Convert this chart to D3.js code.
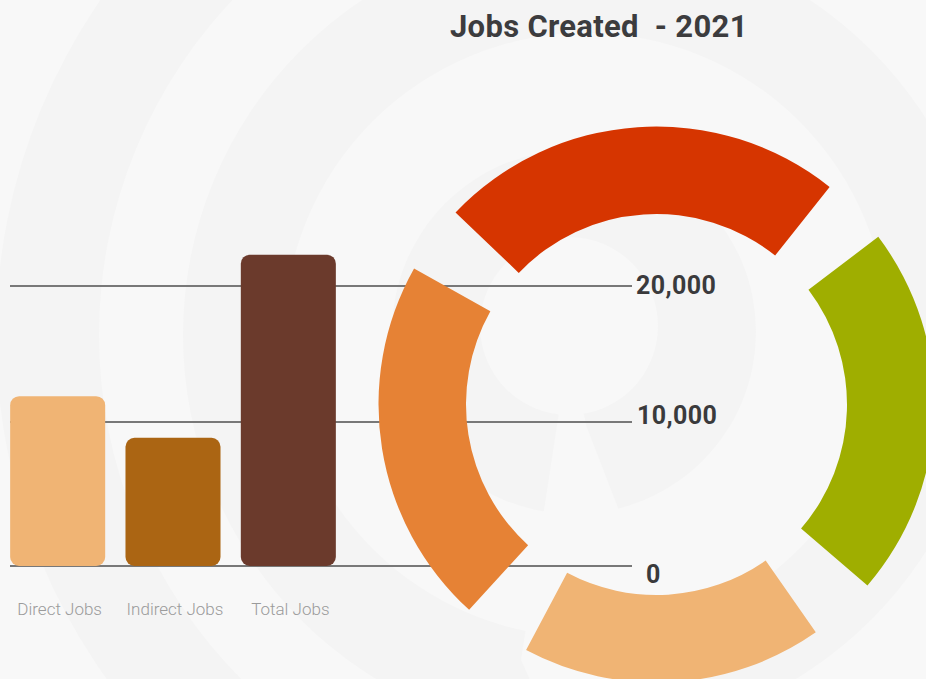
<!DOCTYPE html>
<html><head><meta charset="utf-8">
<script src="https://cdn.jsdelivr.net/npm/d3@7"></script>
<style>
html,body{margin:0;padding:0;background:#f8f8f8;overflow:hidden}
svg{display:block;font-family:Roboto,"Noto Sans",sans-serif}
</style>
</head><body>
<svg id="chart" width="926" height="679"></svg>
<script>
// ---- data ----
const chartTitle = "Jobs Created  - 2021";
const categories = ["Direct Jobs", "Indirect Jobs", "Total Jobs"];
const jobValues = [11900, 8900, 22300];
const tickValues = [0, 10000, 20000];
const tickLabels = ["0", "10,000", "20,000"];
const ringNames = ["Red", "Green", "Peach", "Orange"];
const ringValues = [84.9, 77.8, 63, 77];

// ---- styles / layout ----
const barColors = ["#f0b474", "#ab6513", "#6b3a2c"];
const ringColors = ["#d63500", "#9fae00", "#f0b474", "#e68235"];
const W = 926, H = 679;
const svg = d3.select("#chart");
const deg = Math.PI / 180;

// background decoration
const bg = svg.append("g");
bg.append("rect").attr("width", W).attr("height", H).attr("fill", "#f8f8f8");
const bgCx = 586, bgCy = 335;
const bands = [{r: 590, c: "#f4f4f4"}, {r: 487, c: "#f8f8f8"}, {r: 403, c: "#f4f4f4"}, {r: 302, c: "#f8f8f8"}];
bands.forEach(b => bg.append("circle").attr("cx", bgCx).attr("cy", bgCy).attr("r", b.r).attr("fill", b.c));
bg.append("circle").attr("cx", 574).attr("cy", 332).attr("r", 182).attr("fill", "#f4f4f4");
bg.append("path").attr("d", d3.line()([[569, 347], [521, 660], [548, 720], [700, 720], [586.7, 426.7]])).attr("fill", "#f8f8f8");
bg.append("circle").attr("cx", 569).attr("cy", 326).attr("r", 89).attr("fill", "#f8f8f8");

// scales
const y = d3.scaleLinear().domain(tickValues).range([566, 422, 286]);
const x = d3.scaleBand().domain(categories).range([0, 346]).paddingInner(0.176).paddingOuter(0.088);

// gridlines
svg.append("g").selectAll("line").data(tickValues).join("line")
  .attr("x1", 10).attr("x2", 632)
  .attr("y1", d => y(d)).attr("y2", d => y(d))
  .attr("stroke", "#787878").attr("stroke-width", 2);

// bars
svg.append("g").selectAll("rect").data(categories).join("rect")
  .attr("x", d => x(d))
  .attr("width", x.bandwidth())
  .attr("y", (d, i) => y(jobValues[i]))
  .attr("height", (d, i) => y(0) - y(jobValues[i]))
  .attr("rx", 9).attr("ry", 9)
  .attr("fill", (d, i) => barColors[i]);

// category labels
svg.append("g").selectAll("text").data(categories).join("text")
  .attr("x", d => x(d) + x.bandwidth() / 2 + 2)
  .attr("y", 615)
  .attr("text-anchor", "middle")
  .attr("font-size", 17).attr("font-weight", 300)
  .attr("fill", "#9b9b9b")
  .text(d => d);

// donut
const cx = 656.5, cy = 404.5, rIn = 190.5, rOut = 278;
const pie = d3.pie().sort(null).value(d => d)
  .startAngle(-53.5 * deg).endAngle(306.5 * deg).padAngle(14.4 * deg);
const arc = d3.arc().innerRadius(rIn).outerRadius(rOut);
svg.append("g").attr("transform", `translate(${cx},${cy})`)
  .selectAll("path").data(pie(ringValues)).join("path")
  .attr("d", d => arc({startAngle: d.startAngle + d.padAngle / 2, endAngle: d.endAngle - d.padAngle / 2}))
  .attr("fill", (d, i) => ringColors[i]);

// tick labels
const tickOffsets = [[646, 17], [637, 1.5], [636, 8.3]];
svg.append("g").selectAll("text").data(tickValues).join("text")
  .attr("x", (d, i) => tickOffsets[i][0])
  .attr("y", (d, i) => y(d) + tickOffsets[i][1])
  .attr("font-size", 25).attr("font-weight", 700)
  .attr("letter-spacing", 0.4)
  .attr("fill", "#3a3a3c")
  .text((d, i) => tickLabels[i]);

// title
svg.append("text")
  .attr("x", 450).attr("y", 37)
  .attr("font-size", 31).attr("font-weight", 700)
  .attr("letter-spacing", 0.3)
  .attr("fill", "#3c3c3e")
  .style("white-space", "pre")
  .text(chartTitle);
</script>
</body></html>
